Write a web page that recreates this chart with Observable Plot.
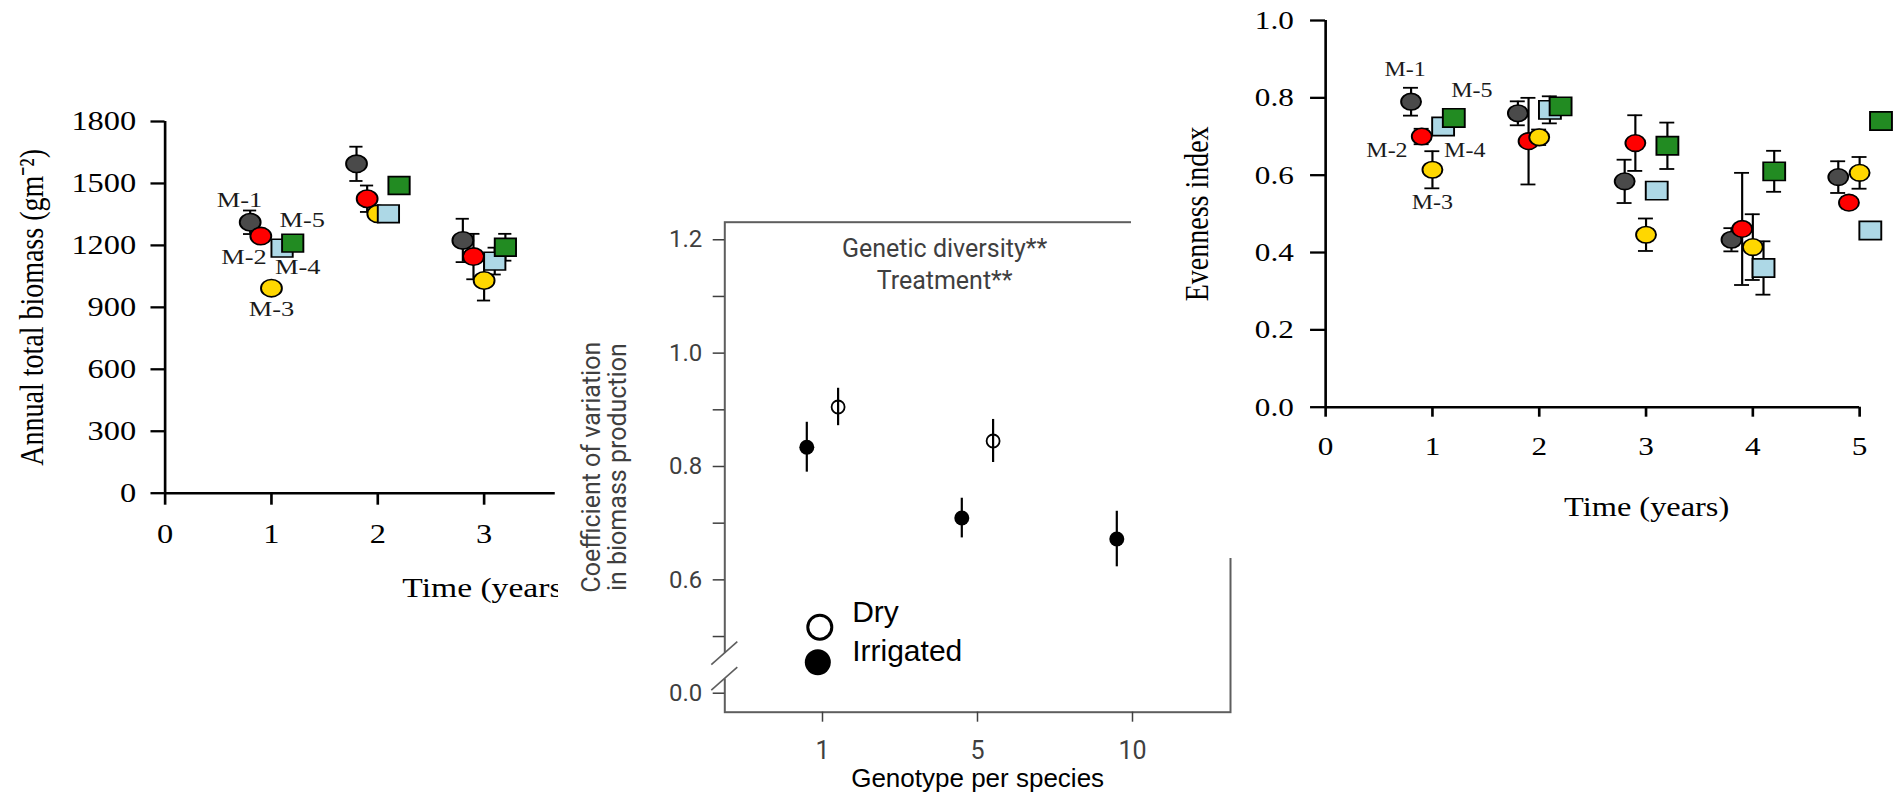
<!DOCTYPE html>
<html><head><meta charset="utf-8">
<script src="https://cdn.jsdelivr.net/npm/d3@7"></script>
<script src="https://cdn.jsdelivr.net/npm/@observablehq/plot@0.6"></script>
<style>
html,body{margin:0;padding:0;background:#fff;}
#page{position:relative;width:1895px;height:799px;overflow:hidden;background:#fff;}
.panel{position:absolute;transform-origin:0 0;}
</style></head>
<body><div id="page"><div id="p1" class="panel"></div><div id="p2" class="panel"></div><div id="p3" class="panel"></div></div>
<script>
// ---------------- data ----------------
const mixtures = ["M-1", "M-2", "M-3", "M-4", "M-5"];

// Panel A: annual total biomass
const biomassYears = [1, 2, 3];
const biomassTicks = [0, 300, 600, 900, 1200, 1500, 1800];
const timeTicksA = [0, 1, 2, 3];
const biomassM1 = [1312, 1595, 1224];
const biomassM2 = [1245, 1426, 1146];
const biomassM3 = [993, 1353, 1030];
const biomassM4 = [1187, 1353, 1124];
const biomassM5 = [1211, 1490, 1191];
const biomassErrM1 = [57, 83, 105];
const biomassErrM2 = [30, 64, 110];
const biomassErrM3 = [25, 25, 97];
const biomassErrM4 = [30, 25, 65];
const biomassErrM5 = [30, 25, 65];

// Panel B: coefficient of variation
const genotypes = ["1", "5", "10"];
const cvDry = [0.905, 0.845, null];
const cvDryErr = [0.033, 0.038, null];
const cvIrrigated = [0.834, 0.709, 0.672];
const cvIrrigatedErr = [0.044, 0.035, 0.049];
const cvTickValues = [0.4, 0.5, 0.6, 0.7, 0.8, 0.9, 1.0, 1.1, 1.2];
const cvTickLabels = ["0.0", "", "0.6", "", "0.8", "", "1.0", "", "1.2"];
const treatments = ["Dry", "Irrigated"];

// Panel C: evenness index
const evenYears = [1, 2, 3, 4, 5];
const evenTicks = [0, 0.2, 0.4, 0.6, 0.8, 1.0];
const timeTicksC = [0, 1, 2, 3, 4, 5];
const evenM1 = [0.790, 0.760, 0.584, 0.433, 0.595];
const evenM2 = [0.700, 0.688, 0.683, 0.461, 0.529];
const evenM3 = [0.614, 0.698, 0.446, 0.414, 0.606];
const evenM4 = [0.726, 0.769, 0.560, 0.360, 0.457];
const evenM5 = [0.748, 0.778, 0.676, 0.610, 0.740];
const evenErrM1 = [0.036, 0.031, 0.056, 0.030, 0.041];
const evenErrM2 = [0.020, 0.112, 0.072, 0.145, 0.015];
const evenErrM3 = [0.048, 0.020, 0.042, 0.085, 0.041];
const evenErrM4 = [0.020, 0.035, 0.015, 0.069, 0.015];
const evenErrM5 = [0.020, 0.020, 0.060, 0.053, 0.015];

// ---------------- styles ----------------
const mixColors = ["#4a4a4a", "#ff0000", "#ffd700", "#add8e6", "#228b22"];
const mixSymbols = ["circle", "circle", "circle", "square", "square"];
const serif = "'Liberation Serif', 'Times New Roman', serif";
const sans = "Roboto, 'Open Sans', sans-serif";
const arial = "'Liberation Sans', Arial, sans-serif";
const frameGray = "#5e5e5e";
const textGray = "#3f3f3f";
const SX = 1.2; // horizontal stretch of the two outer panels

function mixRows(years, values, errs) {
  return mixtures.flatMap((m, k) => years.map((year, j) => ({mix: m, k, year, v: values[k][j], e: errs[k][j]})));
}

function mixMarks(rows, o) {
  const X = d => d.year + (d.k - 2) * o.dodge;
  const marks = [
    Plot.ruleX(rows, {x: X, y1: d => d.v - d.e, y2: d => d.v + d.e, stroke: "black", strokeWidth: o.bar}),
    Plot.ruleY(rows, {y: d => d.v + d.e, x1: d => X(d) - o.cap, x2: d => X(d) + o.cap, stroke: "black", strokeWidth: o.bar}),
    Plot.ruleY(rows, {y: d => d.v - d.e, x1: d => X(d) - o.cap, x2: d => X(d) + o.cap, stroke: "black", strokeWidth: o.bar})
  ];
  mixtures.forEach((m, k) => {
    const sub = rows.filter(d => d.k === k);
    marks.push(Plot.dot(sub, {x: X, y: "v", symbol: mixSymbols[k], r: mixSymbols[k] === "square" ? o.rSquare : o.rCircle,
      fill: mixColors[k], stroke: "black", strokeWidth: 1.6}));
  });
  mixtures.forEach((m, k) => {
    const first = rows.filter(d => d.k === k && d.year === 1);
    const [dx, dy] = o.labelOffsets[k];
    marks.push(Plot.text(first, {x: X, y: "v", text: "mix", dx, dy, fontSize: o.labelSize, fontFamily: serif, fill: "#1a1a1a"}));
  });
  return marks;
}

// ---------------- Panel A ----------------
{
  const rows = mixRows(biomassYears,
    [biomassM1, biomassM2, biomassM3, biomassM4, biomassM5],
    [biomassErrM1, biomassErrM2, biomassErrM3, biomassErrM4, biomassErrM5]);
  const W = 470, H = 640;
  const chart = Plot.plot({
    width: W, height: H,
    marginLeft: 137.1, marginRight: 7.7, marginTop: 121, marginBottom: 147.3,
    x: {domain: [0, 3.67]},
    y: {domain: [0, 1800]},
    style: {fontFamily: serif, fontSize: "27px", background: "transparent", overflow: "visible", color: "black"},
    marks: [
      Plot.axisY({ticks: biomassTicks, tickFormat: d => String(d), tickSize: 11.7, tickPadding: 12.4, strokeWidth: 2.3,
        fontSize: 27, fontFamily: serif, label: null, color: "black"}),
      Plot.axisX({ticks: timeTicksA, tickFormat: d => String(d), tickSize: 12, tickPadding: 19, strokeWidth: 2.2,
        fontSize: 27, fontFamily: serif, label: null, color: "black"}),
      Plot.ruleY([0], {stroke: "black", strokeWidth: 2.6}),
      Plot.ruleX([0], {stroke: "black", strokeWidth: 2.2}),
      ...mixMarks(rows, {dodge: 0.1, cap: 0.062, bar: 1.8, rCircle: 8.7, rSquare: 10, labelSize: 22,
        labelOffsets: [[-9, -22], [-14, 21], [0, 21], [13, 19], [8, -23]]}),
      Plot.text(["Annual total biomass (gm\u207B\u00B2)"], {frameAnchor: "left", text: d => d, rotate: -90, dx: -110.4,
        textAnchor: "middle", fontSize: 28, fontFamily: serif, fill: "black"}),
      Plot.text(["Time (years)"], {frameAnchor: "bottom", text: d => d, textAnchor: "start", dx: 35.1, dy: 104,
        fontSize: 28, fontFamily: serif, fill: "black"})
    ]
  });
  const p = document.getElementById("p1");
  p.style.left = "0px"; p.style.top = "0px"; p.style.width = W + "px"; p.style.height = H + "px";
  p.style.transform = `scaleX(${SX})`; p.style.zIndex = 1;
  p.appendChild(chart);
}

// ---------------- Panel B ----------------
{
  const dryRows = genotypes.map((g, i) => ({g, v: cvDry[i], e: cvDryErr[i]})).filter(d => d.v != null);
  const irrRows = genotypes.map((g, i) => ({g, v: cvIrrigated[i], e: cvIrrigatedErr[i]}));
  const breakValues = [0.425, 0.47];
  const axisBreak = (index, scales, values, dim) => {
    const x0 = dim.marginLeft;
    const g = d3.create("svg:g").attr("fill", "none");
    g.append("line").attr("x1", x0).attr("x2", x0).attr("y1", scales.y(breakValues[1])).attr("y2", scales.y(breakValues[0]))
      .attr("stroke", "white").attr("stroke-width", 6);
    for (const v of breakValues) {
      const yc = scales.y(v);
      g.append("line").attr("x1", x0 - 13).attr("y1", yc + 11.5).attr("x2", x0 + 13).attr("y2", yc - 11.5)
        .attr("stroke", frameGray).attr("stroke-width", 1.6);
    }
    return g.node();
  };
  const W = 692, H = 609;
  const chart = Plot.plot({
    width: W, height: H,
    marginLeft: 166.3, marginRight: 20, marginTop: 31.7, marginBottom: 87.3,
    x: {type: "point", domain: genotypes, padding: 0.623},
    y: {domain: [0.3665, 1.231]},
    style: {fontFamily: sans, fontSize: "24px", background: "white", overflow: "visible", color: textGray},
    marks: [
      Plot.frame({stroke: frameGray, strokeWidth: 2}),
      axisBreak,
      Plot.axisY({ticks: cvTickValues, tickFormat: d => cvTickLabels[cvTickValues.findIndex(t => Math.abs(t - d) < 1e-9)],
        tickSize: 11.6, tickPadding: 11, strokeWidth: 1.5, fontSize: 24, fontFamily: sans, label: null, color: textGray}),
      Plot.axisX({tickSize: 10, tickPadding: 19, strokeWidth: 1.5, fontSize: 25, fontFamily: sans, label: null, color: textGray}),
      Plot.ruleX(irrRows, {x: "g", y1: d => d.v - d.e, y2: d => d.v + d.e, dx: -15.7, stroke: "black", strokeWidth: 2.2}),
      Plot.dot(irrRows, {x: "g", y: "v", dx: -15.7, r: 7.5, fill: "black"}),
      Plot.ruleX(dryRows, {x: "g", y1: d => d.v - d.e, y2: d => d.v + d.e, dx: 15.6, stroke: "black", strokeWidth: 2.2}),
      Plot.dot(dryRows, {x: "g", y: "v", dx: 15.6, r: 6.5, fill: "none", stroke: "black", strokeWidth: 1.8}),
      Plot.text(["Genetic diversity**\nTreatment**"], {frameAnchor: "top", text: d => d, dx: -33, dy: 40.8, lineAnchor: "middle",
        lineHeight: 1.26, fontSize: 25, fontFamily: sans, fill: textGray}),
      Plot.text(["Coefficient of variation\nin biomass production"], {frameAnchor: "left", text: d => d, rotate: -90, dx: -120,
        textAnchor: "middle", lineAnchor: "middle", lineHeight: 1.05, fontSize: 25, fontFamily: sans, fill: textGray}),
      Plot.text(["Genotype per species"], {frameAnchor: "bottom", text: d => d, dy: 75, fontSize: 26, fontFamily: arial, fill: "black"}),
      Plot.dot([treatments[0]], {frameAnchor: "bottom-left", dx: 95, dy: -85, r: 12, fill: "white", stroke: "black", strokeWidth: 3}),
      Plot.dot([treatments[1]], {frameAnchor: "bottom-left", dx: 93, dy: -50, r: 13, fill: "black"}),
      Plot.text([treatments[0]], {frameAnchor: "bottom-left", text: d => d, textAnchor: "start", dx: 127.4, dy: -90,
        fontSize: 30, fontFamily: arial, fill: "black"}),
      Plot.text([treatments[1]], {frameAnchor: "bottom-left", text: d => d, textAnchor: "start", dx: 127.4, dy: -51.7,
        fontSize: 30, fontFamily: arial, fill: "black"})
    ]
  });
  const p = document.getElementById("p2");
  p.style.left = "558px"; p.style.top = "190px"; p.style.width = W + "px"; p.style.height = H + "px";
  p.style.background = "white"; p.style.zIndex = 2;
  p.appendChild(chart);
}

// ---------------- Panel C ----------------
{
  const rows = mixRows(evenYears,
    [evenM1, evenM2, evenM3, evenM4, evenM5],
    [evenErrM1, evenErrM2, evenErrM3, evenErrM4, evenErrM5]);
  const W = 637, H = 558;
  const chart = Plot.plot({
    width: W, height: H,
    marginLeft: 161.7, marginRight: 30.3, marginTop: 20, marginBottom: 151.3,
    x: {domain: [0, 5]},
    y: {domain: [0, 1]},
    style: {fontFamily: serif, fontSize: "26px", background: "white", overflow: "visible", color: "black"},
    marks: [
      Plot.axisY({ticks: evenTicks, tickFormat: d3.format(".1f"), tickSize: 12.5, tickPadding: 14, strokeWidth: 2.3,
        fontSize: 26, fontFamily: serif, label: null, color: "black"}),
      Plot.axisX({ticks: timeTicksC, tickFormat: d => String(d), tickSize: 10, tickPadding: 19, strokeWidth: 2.2,
        fontSize: 26, fontFamily: serif, label: null, color: "black"}),
      Plot.ruleY([0], {stroke: "black", strokeWidth: 2.6}),
      Plot.ruleX([0], {stroke: "black", strokeWidth: 2.2}),
      ...mixMarks(rows, {dodge: 0.1, cap: 0.07, bar: 1.8, rCircle: 8.3, rSquare: 10.3, labelSize: 20,
        labelOffsets: [[-5, -32], [-29, 14], [0, 33], [18, 24], [15, -27]]}),
      Plot.text(["Evenness index"], {frameAnchor: "left", text: d => d, rotate: -90, dx: -107,
        textAnchor: "middle", fontSize: 28, fontFamily: serif, fill: "black"}),
      Plot.text(["Time (years)"], {frameAnchor: "bottom", text: d => d, dx: 45, dy: 109,
        fontSize: 27, fontFamily: serif, fill: "black"})
    ]
  });
  const p = document.getElementById("p3");
  p.style.left = "1131px"; p.style.top = "0px"; p.style.width = W + "px"; p.style.height = H + "px";
  p.style.background = "white"; p.style.transform = `scaleX(${SX})`; p.style.zIndex = 3;
  p.appendChild(chart);
}
</script>
</body></html>
